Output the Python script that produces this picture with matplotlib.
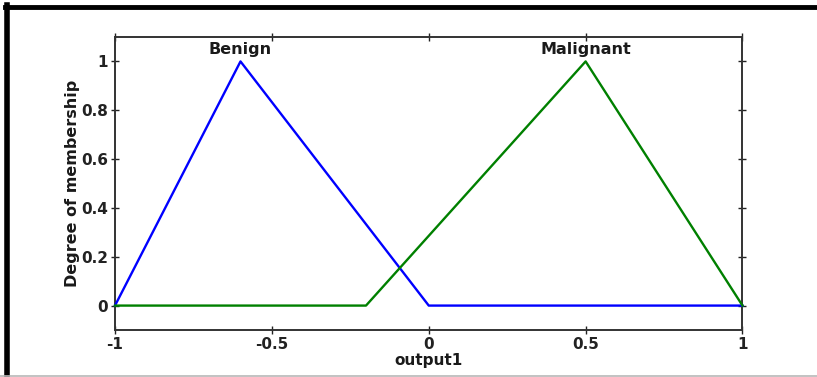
import matplotlib
matplotlib.use("Agg")
import matplotlib.pyplot as plt
from matplotlib.lines import Line2D

# Data
benign_x = [-1.0, -0.6, 0.0, 1.0]
benign_y = [0.0, 1.0, 0.0, 0.0]
malignant_x = [-1.0, -0.2, 0.5, 1.0]
malignant_y = [0.0, 0.0, 1.0, 0.0]
labels = ["Benign", "Malignant"]
label_x = [-0.6, 0.5]
xticks = [-1, -0.5, 0, 0.5, 1]
xticklabels = ["-1", "-0.5", "0", "0.5", "1"]
yticks = [0, 0.2, 0.4, 0.6, 0.8, 1]
yticklabels = ["0", "0.2", "0.4", "0.6", "0.8", "1"]

plt.rcParams['font.family'] = ['DejaVu Sans']
plt.rcParams['font.weight'] = 'bold'

W, H = 817, 377
fig = plt.figure(figsize=(W / 100, H / 100), dpi=100)
fig.patch.set_facecolor('white')

# Figure frame lines (black left/top, faint gray bottom)
fig.add_artist(Line2D([6.5 / W, 6.5 / W], [0, 1 - 5 / H], color='black', lw=4,
                      transform=fig.transFigure))
fig.add_artist(Line2D([5 / W, 1], [1 - 7 / H, 1 - 7 / H], color='black', lw=3.5,
                      transform=fig.transFigure))
fig.add_artist(Line2D([0, 1], [1.5 / H, 1.5 / H], color='#b8b8b8', lw=1.2,
                      transform=fig.transFigure))

left, right, top, bottom = 115, 742.5, 37, 330
ax = fig.add_axes([left / W, 1 - bottom / H, (right - left) / W, (bottom - top) / H])

ax.plot(benign_x, benign_y, color=(0, 0, 1), lw=1.7, clip_on=False, zorder=3)
ax.plot(malignant_x, malignant_y, color=(0, 0.5, 0), lw=1.7, clip_on=False, zorder=3)

for lab, lx in zip(labels, label_x):
    ax.text(lx, 1.02, lab, ha='center', va='bottom', fontsize=11.5, fontweight='bold',
            color='#1a1a1a')

ax.set_xlim(-1, 1)
ax.set_ylim(-0.1, 1.1)
ax.set_xticks(xticks)
ax.set_xticklabels(xticklabels)
ax.set_yticks(yticks)
ax.set_yticklabels(yticklabels)
ax.tick_params(direction='inout', length=6, width=1, top=True, right=True,
               labelsize=11, colors='#222222', pad=2)
for lbl in ax.get_xticklabels() + ax.get_yticklabels():
    lbl.set_fontweight('bold')
for sp in ax.spines.values():
    sp.set_color('#333333')
    sp.set_linewidth(1.4)

ax.set_xlabel("output1", fontsize=11, fontweight='bold', labelpad=1, color='#1a1a1a')
ax.set_ylabel("Degree of membership", fontsize=11.5, fontweight='bold', labelpad=1,
              color='#1a1a1a')

fig.savefig("out.png", dpi=100, facecolor='white')
